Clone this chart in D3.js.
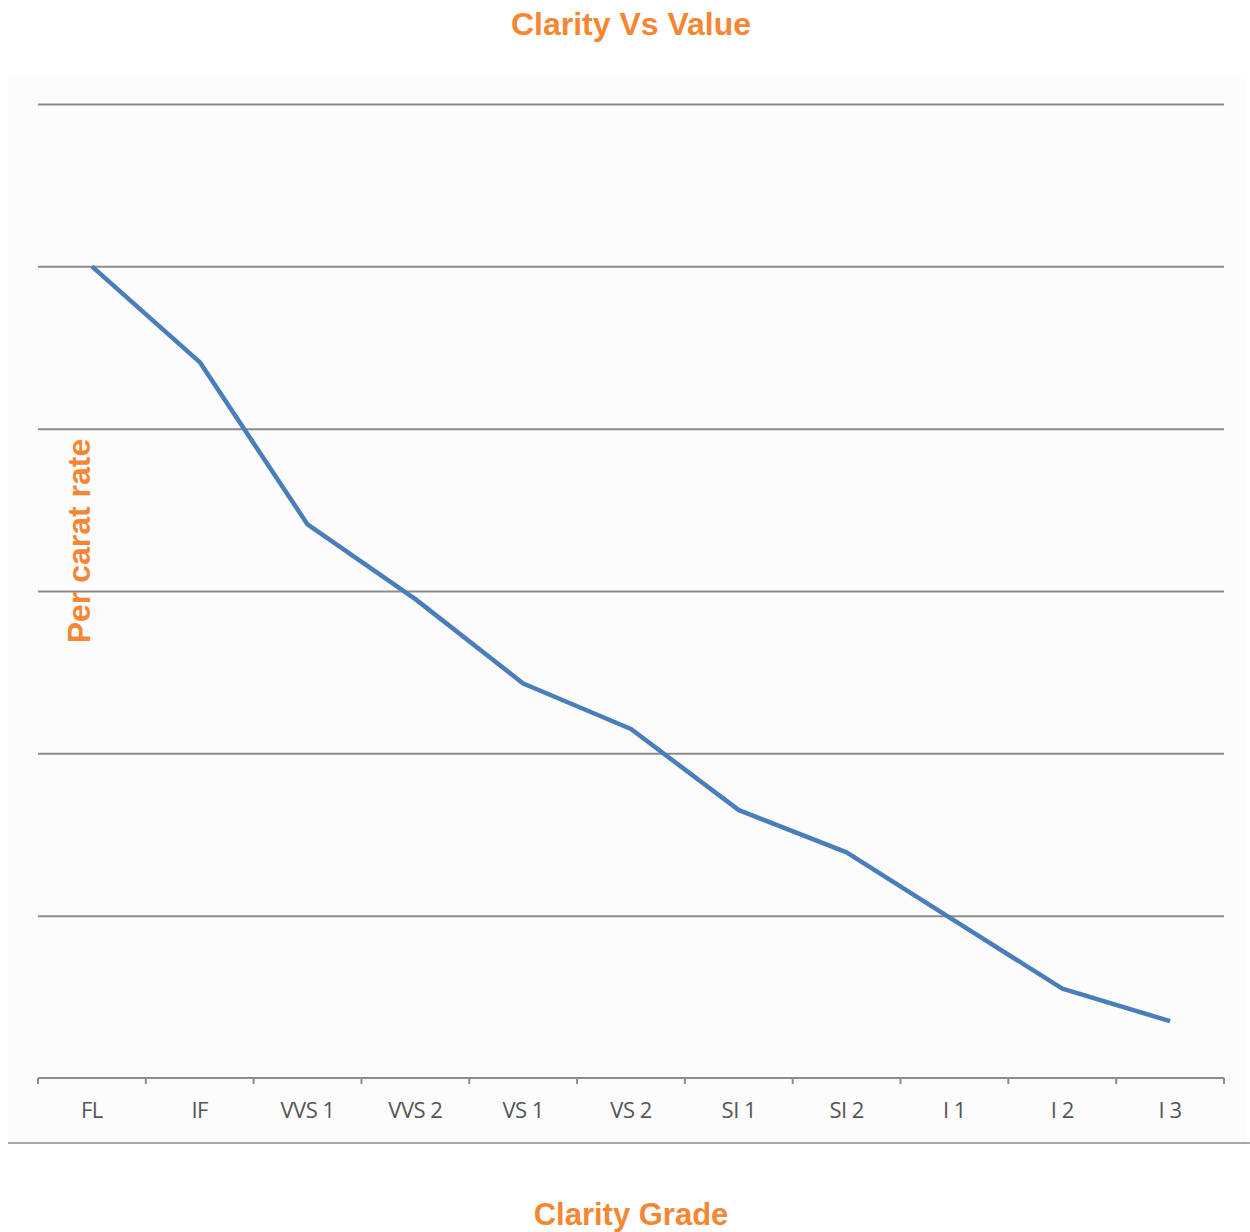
<!DOCTYPE html>
<html>
<head>
<meta charset="utf-8">
<script src="https://cdn.jsdelivr.net/npm/d3@7"></script>
<style>
  body { margin: 0; background: #fff; }
  .grid line { stroke: #8c8c8c; stroke-width: 2; }
  .grid .domain { display: none; }
  .axis path, .axis line { stroke: #8c8c8c; stroke-width: 2; }
  .axis text { font-family: "Open Sans", sans-serif; font-size: 22px; fill: #555; letter-spacing: -0.5px; }
  .ttl { font-family: "Liberation Sans", Arial, sans-serif; font-weight: bold; fill: #f58634; }
</style>
</head>
<body>
<svg id="chart"></svg>
<script>
// clarity grades along x
var grades = ['FL', 'IF', 'VVS 1', 'VVS 2', 'VS 1', 'VS 2', 'SI 1', 'SI 2', 'I 1', 'I 2', 'I 3'];
// per carat rate (relative units, gridline = 1)
var rates = [5.0, 4.41, 3.41, 2.95, 2.43, 2.15, 1.65, 1.39, 0.97, 0.55, 0.35];
var gridLevels = [0, 1, 2, 3, 4, 5, 6];

var W = 1250, H = 1232;
var margin = {top: 104, right: 26, bottom: 154, left: 38},
    width = W - margin.left - margin.right,
    height = H - margin.top - margin.bottom;

var svg = d3.select('#chart').attr('width', W).attr('height', H);

// plot panel background
svg.append('rect')
  .attr('x', 8).attr('y', 75).attr('width', 1238).attr('height', 1068)
  .attr('fill', '#fcfcfc');
svg.append('line')
  .attr('x1', 8).attr('x2', 1250).attr('y1', 1143).attr('y2', 1143)
  .attr('stroke', '#a8a8a8').attr('stroke-width', 2);

var x = d3.scaleBand().domain(grades).range([0, width]),
    y = d3.scaleLinear().domain([0, 6]).range([height, 0]);

var g = svg.append('g')
  .attr('transform', 'translate(' + margin.left + ',' + margin.top + ')');

// gridlines
g.append('g')
  .attr('class', 'grid')
  .call(d3.axisLeft(y).tickValues(gridLevels.slice(1)).tickSize(-width).tickFormat(''));

// x axis with ticks at band edges
var xAxis = g.append('g')
  .attr('class', 'axis')
  .attr('transform', 'translate(0,' + height + ')')
  .call(d3.axisBottom(x).tickSize(0).tickPadding(24));
xAxis.select('.domain').attr('d', 'M0,0H' + width);
xAxis.selectAll('.edge')
  .data(d3.range(grades.length + 1))
  .enter().append('line')
    .attr('class', 'edge')
    .attr('x1', function(i) { return i * x.step(); })
    .attr('x2', function(i) { return i * x.step(); })
    .attr('y1', 0).attr('y2', 6);

var line = d3.line()
  .x(function(d, i) { return x(grades[i]) + x.bandwidth() / 2; })
  .y(function(d) { return y(d); });

g.append('path')
  .datum(rates)
  .attr('d', line)
  .attr('fill', 'none')
  .attr('stroke', '#4a7ebb')
  .attr('stroke-width', 4.5)
  .attr('stroke-linejoin', 'round');

// titles
svg.append('text').attr('class', 'ttl')
  .attr('x', 631).attr('y', 35).attr('text-anchor', 'middle')
  .style('font-size', '32px').text('Clarity Vs Value');

svg.append('text').attr('class', 'ttl')
  .attr('x', 631).attr('y', 1225).attr('text-anchor', 'middle')
  .style('font-size', '31px').text('Clarity Grade');

svg.append('text').attr('class', 'ttl')
  .attr('transform', 'translate(90,541) rotate(-90)')
  .attr('text-anchor', 'middle')
  .style('font-size', '32px').text('Per carat rate');
</script>
</body>
</html>
